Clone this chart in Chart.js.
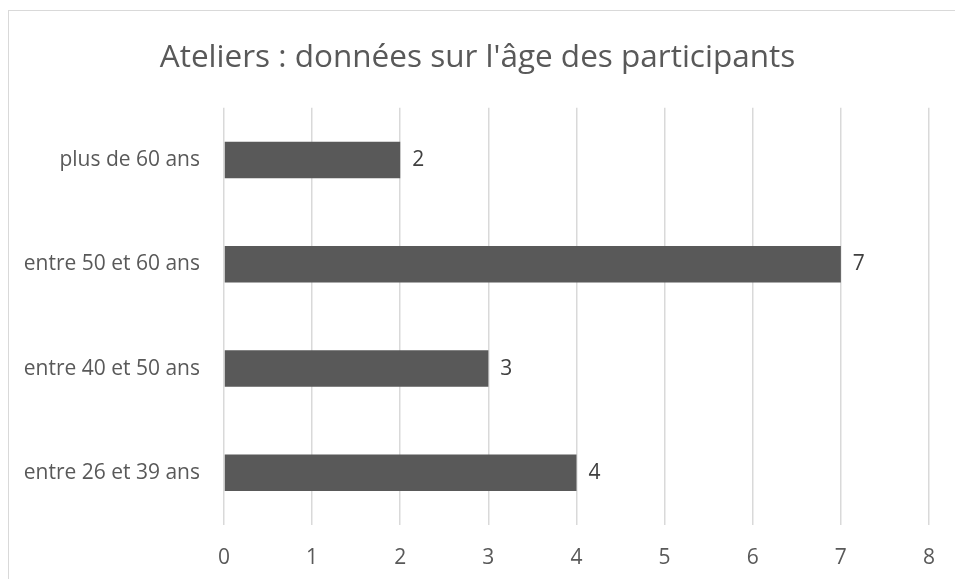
<!DOCTYPE html>
<html>
<head>
<meta charset="utf-8">
<script src="https://cdn.jsdelivr.net/npm/chart.js@4"></script>
<style>
  body { margin: 0; background: #fff; overflow: hidden; }
  #frame { position: absolute; left: 8px; top: 10px; width: 980px; height: 620px; border: 1px solid #d9d9d9; }
  #wrap { position: absolute; left: 0; top: 0; width: 955px; height: 579px; }
</style>
</head>
<body>
<div id="frame"></div>
<div id="wrap"><canvas id="myChart"></canvas></div>
<script>
// data
const categories = ['plus de 60 ans', 'entre 50 et 60 ans', 'entre 40 et 50 ans', 'entre 26 et 39 ans'];
const participants = [2, 7, 3, 4];
const xTicks = [0, 1, 2, 3, 4, 5, 6, 7, 8];

const FONT = "'Open Sans', 'DejaVu Sans', sans-serif";

// value labels at the end of each bar
const barValues = {
    id: 'barValues',
    afterDatasetsDraw(chart, args, options) {
        const { ctx } = chart;
        const meta = chart.getDatasetMeta(0);
        ctx.save();
        ctx.font = `${options.size}px ${FONT}`;
        ctx.fillStyle = options.color;
        ctx.textAlign = 'left';
        ctx.textBaseline = 'middle';
        meta.data.forEach((bar, i) => {
            ctx.fillText(String(chart.data.datasets[0].data[i]), bar.x + options.offset, bar.y);
        });
        ctx.restore();
    }
};

const data = {
    labels: categories,
    datasets: [{
        label: 'Participants',
        data: participants,
        backgroundColor: '#595959',
        borderWidth: 0,
        barPercentage: 0.35,
        categoryPercentage: 1
    }]
};

const config = {
    type: 'bar',
    data: data,
    options: {
        indexAxis: 'y',
        responsive: true,
        maintainAspectRatio: false,
        animation: false,
        layout: {
            padding: { left: 23, right: 23, top: 0, bottom: 0 }
        },
        scales: {
            x: {
                min: 0,
                max: 8,
                afterBuildTicks: scale => { scale.ticks = xTicks.map(v => ({ value: v })); },
                afterFit: scale => { scale.height = 54; },
                grid: { color: '#d9d9d9', lineWidth: 1.5, drawTicks: false },
                border: { display: false },
                ticks: { color: '#595959', padding: 20, font: { family: FONT, size: 21 } }
            },
            y: {
                grid: { display: false, drawTicks: false },
                border: { display: false },
                afterFit: scale => { scale.width = 201; },
                ticks: { color: '#595959', padding: 24, font: { family: FONT, size: 21 } }
            }
        },
        plugins: {
            legend: { display: false },
            tooltip: { enabled: false },
            title: {
                display: true,
                text: "Ateliers : données sur l'âge des participants",
                color: '#595959',
                font: { family: FONT, size: 31.5, weight: 'normal' },
                padding: { top: 39, bottom: 31 }
            },
            barValues: { size: 21, color: '#404040', offset: 12 }
        }
    },
    plugins: [barValues]
};

const myChart = new Chart(document.getElementById('myChart'), config);
</script>
</body>
</html>
